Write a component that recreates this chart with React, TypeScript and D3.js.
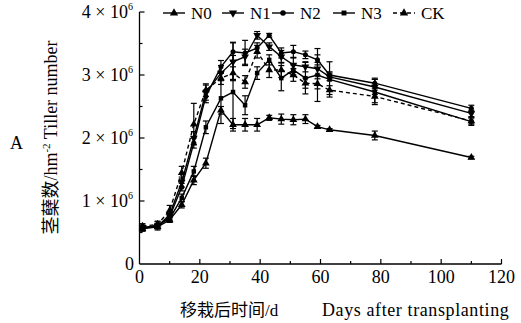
import { useMemo } from 'react';
import { scaleLinear, line, symbol, symbolTriangle, symbolCircle, symbolSquare, range } from 'd3';

// sampling days after transplanting
const days = [1, 6, 10, 14, 18, 22, 27, 31, 35, 39, 43, 47, 51, 55, 59, 63, 78, 110];

// tiller number, x10^6 per hm2
const n0 = [0.56, 0.59, 0.7, 0.94, 1.33, 1.6, 2.44, 2.21, 2.21, 2.21, 2.32, 2.3, 2.29, 2.3, 2.18, 2.13, 2.04, 1.69];
const n1 = [0.58, 0.6, 0.78, 1.3, 2.0, 2.72, 3.03, 3.21, 3.29, 3.63, 3.45, 3.29, 3.16, 3.13, 3.1, 2.97, 2.81, 2.39];
const n2 = [0.57, 0.6, 0.75, 1.22, 1.92, 2.66, 3.13, 3.37, 3.35, 3.43, 3.63, 3.35, 3.37, 3.32, 3.24, 3.0, 2.87, 2.47];
const n3 = [0.57, 0.62, 0.72, 1.05, 1.47, 2.17, 2.63, 2.73, 2.52, 3.03, 3.24, 2.95, 3.08, 2.95, 3.0, 2.93, 2.73, 2.26];
const ck = [0.6, 0.63, 0.85, 1.45, 2.22, 2.76, 2.95, 3.03, 2.89, 3.37, 3.08, 3.08, 3.0, 2.87, 2.86, 2.76, 2.66, 2.27];

// standard errors
const n0Err = [0.04, 0.05, 0.04, 0.05, 0.07, 0.08, 0.06, 0.1, 0.1, 0.1, 0.04, 0.08, 0.08, 0.07, 0.02, 0.02, 0.07, 0.02];
const n1Err = [0.04, 0.04, 0.05, 0.08, 0.1, 0.12, 0.12, 0.3, 0.12, 0.06, 0.06, 0.1, 0.12, 0.08, 0.1, 0.06, 0.12, 0.05];
const n2Err = [0.04, 0.04, 0.05, 0.06, 0.08, 0.1, 0.1, 0.15, 0.2, 0.08, 0.03, 0.08, 0.1, 0.06, 0.08, 0.05, 0.08, 0.05];
const n3Err = [0.04, 0.05, 0.04, 0.06, 0.08, 0.1, 0.4, 0.58, 0.15, 0.1, 0.08, 0.2, 0.08, 0.25, 0.42, 0.28, 0.2, 0.06];
const ckErr = [0.04, 0.05, 0.08, 0.1, 0.33, 0.1, 0.1, 0.1, 0.1, 0.1, 0.12, 0.12, 0.1, 0.08, 0.08, 0.07, 0.1, 0.05];

const seriesNames = ['N0', 'N1', 'N2', 'N3', 'CK'];
const yTicks = [1, 2, 3, 4];
const xTicks = [0, 20, 40, 60, 80, 100, 120];

const FONT = '"Liberation Serif", "DejaVu Serif", "Noto Sans CJK SC", serif';

const series = [
  { name: 'N0', values: n0, err: n0Err, shape: symbolTriangle, rot: 0, dash: false },
  { name: 'N1', values: n1, err: n1Err, shape: symbolTriangle, rot: 180, dash: false },
  { name: 'N2', values: n2, err: n2Err, shape: symbolCircle, rot: 0, dash: false },
  { name: 'N3', values: n3, err: n3Err, shape: symbolSquare, rot: 0, dash: false },
  { name: 'CK', values: ck, err: ckErr, shape: symbolTriangle, rot: 0, dash: true },
];

const App = () => {
  const width = 521;
  const height = 323;

  const x = useMemo(() => scaleLinear().domain([0, 120]).range([139.5, 501.5]), []);
  const y = useMemo(() => scaleLinear().domain([0, 4]).range([264, 12]), []);

  const lineGen = line<number>()
    .x((_, i) => x(days[i]))
    .y((d) => y(d));

  const markerPath = (shape: any, size: number) => symbol().type(shape).size(size)() as string;

  const legendX = [163, 222, 272, 333, 393];

  return (
    <svg
      width={width}
      height={height}
      style={{ position: 'absolute', left: 0, top: 0, background: 'white', fontFamily: FONT }}
    >
      {/* axes */}
      <line x1={x(0)} x2={x(0)} y1={y(0)} y2={y(4)} stroke="black" strokeWidth={1.3} />
      <line x1={x(0)} x2={x(120)} y1={y(0)} y2={y(0)} stroke="black" strokeWidth={1.3} />
      {range(0.5, 4.01, 0.5).map((v) => (
        <line
          key={'yt' + v}
          x1={x(0)}
          x2={x(0) + (v % 1 === 0 ? 5 : 3)}
          y1={y(v)}
          y2={y(v)}
          stroke="black"
          strokeWidth={1.2}
        />
      ))}
      {range(10, 121, 10).map((v) => (
        <line
          key={'xt' + v}
          x1={x(v)}
          x2={x(v)}
          y1={y(0)}
          y2={y(0) - (v % 20 === 0 ? 5 : 3)}
          stroke="black"
          strokeWidth={1.2}
        />
      ))}

      {/* tick labels */}
      {yTicks.map((v) => (
        <text key={'yl' + v} x={133} y={y(v) + 6} textAnchor="end" fontSize={18}>
          {v} × 10
          <tspan dy={-8} fontSize={10}>
            6
          </tspan>
        </text>
      ))}
      <text x={134} y={270} textAnchor="end" fontSize={18}>
        0
      </text>
      {xTicks.map((v) => (
        <text key={'xl' + v} x={x(v)} y={283} textAnchor="middle" fontSize={18}>
          {v}
        </text>
      ))}

      {/* titles */}
      <text x={180} y={316} fontSize={17}>
        移栽后时间/d
      </text>
      <text x={322} y={316} fontSize={18} letterSpacing={0.6}>
        Days after transplanting
      </text>
      <text transform="translate(57,137.5) rotate(-90)" textAnchor="middle" fontSize={18}>
        茎蘖数/hm
        <tspan dy={-7} fontSize={11}>
          -2
        </tspan>
        <tspan dy={7}> Tiller number</tspan>
      </text>
      <text x={10} y={149} fontSize={18}>
        A
      </text>

      {/* series */}
      {series.map((s) => (
        <g key={s.name}>
          <path
            d={lineGen(s.values) as string}
            fill="none"
            stroke="black"
            strokeWidth={1.4}
            strokeDasharray={s.dash ? '4,3' : undefined}
          />
          {s.values.map((v, i) => (
            <g key={i}>
              <line x1={x(days[i])} x2={x(days[i])} y1={y(v - s.err[i])} y2={y(v + s.err[i])} stroke="black" strokeWidth={1.2} />
              <line x1={x(days[i]) - 3} x2={x(days[i]) + 3} y1={y(v - s.err[i])} y2={y(v - s.err[i])} stroke="black" strokeWidth={1.2} />
              <line x1={x(days[i]) - 3} x2={x(days[i]) + 3} y1={y(v + s.err[i])} y2={y(v + s.err[i])} stroke="black" strokeWidth={1.2} />
              <path
                d={markerPath(s.shape, s.shape === symbolTriangle ? 26 : 20)}
                transform={`translate(${x(days[i])},${y(v)}) rotate(${s.rot})`}
                fill="black"
              />
            </g>
          ))}
        </g>
      ))}

      {/* legend */}
      {series.map((s, i) => (
        <g key={'lg' + s.name} transform={`translate(${legendX[i]},13)`}>
          <line x1={0} x2={22} y1={0} y2={0} stroke="black" strokeWidth={1.4} strokeDasharray={s.dash ? '4,3' : undefined} />
          <path d={markerPath(s.shape, s.shape === symbolTriangle ? 30 : 24)} transform={`translate(11,0) rotate(${s.rot})`} fill="black" />
          <text x={28} y={6} fontSize={17}>
            {seriesNames[i]}
          </text>
        </g>
      ))}
    </svg>
  );
};

export default App;
